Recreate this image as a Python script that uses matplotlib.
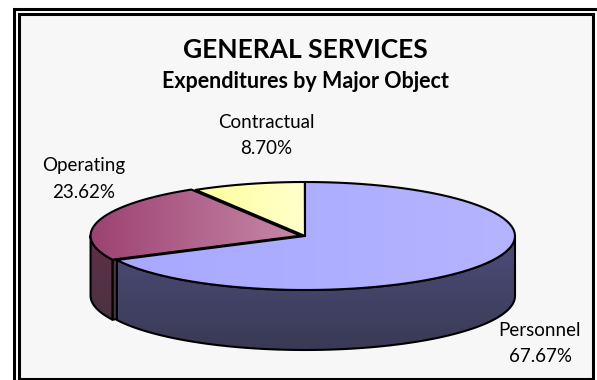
import numpy as np
import matplotlib.pyplot as plt
from matplotlib.patches import Polygon
from matplotlib.colors import LinearSegmentedColormap

# data
labels = ['Personnel', 'Operating', 'Contractual']
shares = [67.67, 23.62, 8.70]
explode = [0.0, 0.022, 0.0]
topColors = [('#a8a8ff', '#b4b4ff'), ('#9c4272', '#c888a8'), ('#ffff9c', '#ffffcc')]
sideColors = [('#4c4c7a', '#3a3a55'), ('#602e4a', '#4a3440'), ('#8a8a50', '#707040')]

W, H = 597, 380
fig = plt.figure(figsize=(W/100, H/100), dpi=100)
fig.patch.set_facecolor('white')
ax = fig.add_axes([0, 0, 1, 1])
ax.axis('off')

# pie geometry (pixels)
cx, cy = 305, 236
rx, ry = 210, 54
depth = 60

def shade(pts, c1, c2, z, horizontal=False):
	poly = Polygon(pts, closed=True, facecolor=c1, edgecolor='none', zorder=z)
	ax.add_patch(poly)
	xs, ys = np.array(pts).T
	cmap = LinearSegmentedColormap.from_list('g', [c1, c2])
	g = np.linspace(0, 1, 256)
	grad = g.reshape(1, -1) if horizontal else g.reshape(-1, 1)
	im = ax.imshow(grad, cmap=cmap, extent=(xs.min(), xs.max(), ys.max(), ys.min()),
		aspect='auto', zorder=z + 0.1, interpolation='bilinear')
	im.set_clip_path(poly)
	ax.add_patch(Polygon(pts, closed=True, facecolor='none', edgecolor='black',
		lw=1.5, joinstyle='round', zorder=z + 0.2))

def rim(a0, a1, ox, oy, dz=0, n=80):
	t = np.radians(np.linspace(a0, a1, n))
	return np.column_stack([cx + ox + rx*np.cos(t), cy + oy - ry*np.sin(t) + dz])

# slice angles: start at 12 o'clock, clockwise
cum = np.cumsum([0] + shares)
for i in range(len(shares)):
	hi = 90 - cum[i]*3.6
	lo = 90 - cum[i+1]*3.6
	if lo < -180:
		lo += 360
		hi += 360
	mid = np.radians((lo + hi)/2)
	ox = explode[i]*rx*np.cos(mid)
	oy = -explode[i]*ry*np.sin(mid)
	c = np.array([cx + ox, cy + oy])

	# radial face at the clockwise end, visible when facing the viewer
	if np.cos(np.radians(hi)) < -0.01:
		p = rim(hi, hi, ox, oy, n=1)[0]
		face = [c, p, p + [0, depth], c + [0, depth]]
		shade(face, sideColors[i][0], sideColors[i][1], 1)

	# outer wall, front half only
	for k in (-1, 0, 1):
		a0 = max(lo, 180 + 360*k)
		a1 = min(hi, 360 + 360*k)
		if a1 > a0:
			top = rim(a0, a1, ox, oy)
			bot = rim(a1, a0, ox, oy, dz=depth)
			shade(np.vstack([top, bot]), sideColors[i][0], sideColors[i][1], 2)

	# top surface
	pts = np.vstack([[c], rim(lo, hi, ox, oy)])
	shade(pts, topColors[i][0], topColors[i][1], 3, horizontal=True)

# frame
ax.add_patch(plt.Rectangle((18.5, 14), 574.5, 364.5, facecolor='#f7f7f7',
	edgecolor='black', lw=2.2, zorder=0))
ax.plot([14, 14, W], [H, 9, 9], color='black', lw=2.2, solid_joinstyle='miter', zorder=0)

fnt = 'Lato'
ax.text(305, 50, 'GENERAL SERVICES', ha='center', va='center', fontsize=19,
	fontweight='bold', family=fnt)
ax.text(305, 82, 'Expenditures by Major Object', ha='center', va='center',
	fontsize=15.5, fontweight='bold', family=fnt)

lblPos = [(540, 330), (84, 165), (266, 122)]
for i in range(len(labels)):
	x, y = lblPos[i]
	ax.text(x, y, labels[i], ha='center', va='center', fontsize=13.5, family=fnt)
	ax.text(x, y + 27, '%.2f%%' % shares[i], ha='center', va='center', fontsize=13.5, family=fnt)

ax.set_xlim(0, W)
ax.set_ylim(H, 0)
fig.savefig('out.png', dpi=100)
